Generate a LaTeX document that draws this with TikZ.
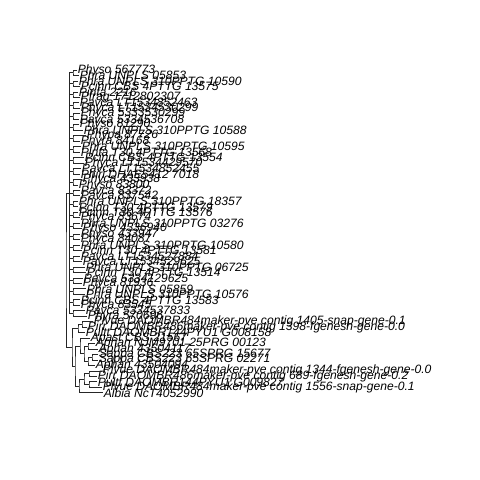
\documentclass[tikz,border=0pt]{standalone}
\usepackage{fontspec}
\setmainfont{Liberation Sans}
\begin{document}
\begin{tikzpicture}[x=1pt,y=-1pt,
  tip/.style={anchor=west,inner sep=0.6pt,font=\fontsize{12.1}{13}\selectfont\itshape},
  edge/.style={line width=0.7pt,draw=black!85}]
\useasboundingbox[fill=white] (0,0) rectangle (480,480);
% tips
\foreach \i/\x/\t in {
1/77/{Physo 567773},
2/79/{Phra UNPLS 05853},
3/78/{Phra UNPLS 310PPTG 10590},
4/80/{Pcinn CBS 4PTTG 13575},
5/78/{Pinfa 2216},
6/80/{Pfrag 1712802307},
7/79/{Pavca LT1534852463},
8/80/{Phyca LT1534530299},
9/80/{Phyca 5333530299},
10/79/{Pavca 5334536708},
11/79/{Physo 81290},
12/83/{Phra UNPLS 310PPTG 10588},
13/86/{Phypa 87726},
14/80/{Phyra 84168},
15/81/{Phra UNPLS 310PPTG 10595},
16/80/{Pinfa T30 4PTTG 13568},
17/84/{Pcinn CBS 4PTTG 13554},
18/84/{Phyca LT1534429570},
19/81/{Pavca LT1534852455},
20/80/{Phiri DHAE5412 7018},
21/82/{Phyca 433938},
22/78/{Physo 83800},
23/80/{Pavca 83372},
24/80/{Pavca 837542},
25/78/{Phra UNPLS 310PPTG 18357},
26/78/{Pcinn T30 4PTTG 13579},
27/78/{Pcinn T30 4PTTG 13576},
28/80/{Phyca 83674},
29/80/{Phra UNPLS 310PPTG 03276},
30/82/{Physo 4336940},
31/80/{Physo 433947},
32/80/{Phyca 84087},
33/80/{Phra UNPLS 310PPTG 10580},
34/82/{Pcinn T30 4PTTG 13581},
35/80/{Pavca LT1534527884},
36/82/{Pavca LT1534529625},
37/85/{Phra UNPLS 310PPTG 06725},
38/86/{Pcinn T30 4PTTG 13514},
39/83/{Pavca 5334129625},
40/82/{Phyca 81936},
41/86/{Phra UNPLS 05859},
42/85/{Phra UNPLS 310PPTG 10576},
43/80/{Pcinn CBS 4PTTG 13583},
44/80/{Phyca 83545},
45/85/{Pavca 5334537833},
46/87/{Phyra 570696},
47/93/{Plvue DAOMBR484maker-pve contig 1405-snap-gene-0.1},
48/87/{Pirr DAOMBR486maker-pve contig 1398-fgenesh-gene-0.0},
49/85/{Pultt DAOMBR144PYU1 G008158},
50/90/{Apast CBS 21567},
51/95/{Aphan NJM9701 25PRG 00123},
52/98/{Aphan 43504117},
53/98/{Sappa CBS223 65SPRG 15677},
54/98/{Sappa CBS223 65SPRG 02271},
55/95/{Aphan 43504094},
56/102/{Plvue DAOMBR484maker-pve contig 1344-fgenesh-gene-0.0},
57/97/{Pirr DAOMBR486maker-pve contig 689-fgenesh-gene-0.2},
58/97/{Pultt DAOMBR144PYU1 G009827},
59/102/{Plvue DAOMBR484maker-pve contig 1556-snap-gene-0.1},
60/103/{Albia NcT4052990}}
  \node[tip] (t\i) at (\x,{70+(\i-1)*5.47}) {\t};
% upper clade
\coordinate (u) at (69,193);
\foreach \k in {1,...,23} {
  \pgfmathtruncatemacro\a{2*\k-1}
  \pgfmathtruncatemacro\b{2*\k}
  \coordinate (q\k) at (73,{70+(2*\k-1.5)*5.47});
  \draw[edge] (t\a.west) -| (q\k) |- (t\b.west);
  \draw[edge] (q\k -| u) -- (q\k);
}
\draw[edge] (q1 -| u) -- (q23 -| u);
% lower clade
\coordinate (a1) at (82,324.3);
\coordinate (a) at (78,328.4);
\coordinate (c2) at (88,346.2);
\coordinate (c4) at (92,357.2);
\coordinate (c3) at (88,361.3);
\coordinate (c1) at (84,353.8);
\coordinate (c) at (80,345.9);
\coordinate (d2) at (89,373.6);
\coordinate (d3) at (89,384.6);
\coordinate (d1) at (84,379.1);
\coordinate (d) at (79,385.9);
\coordinate (b) at (75,365.9);
\coordinate (l) at (72,347.2);
\coordinate (r) at (66,270);
\draw[edge] (t47.west) -| (a1) |- (t48.west);
\draw[edge] (a1) -| (a) |- (t49.west);
\draw[edge] (t51.west) -| (c2) |- (t52.west);
\draw[edge] (t53.west) -| (c4) |- (t54.west);
\draw[edge] (c4) -| (c3) |- (t55.west);
\draw[edge] (c2) -| (c1) |- (c3);
\draw[edge] (t50.west) -| (c) |- (c1);
\draw[edge] (t56.west) -| (d2) |- (t57.west);
\draw[edge] (t58.west) -| (d3) |- (t59.west);
\draw[edge] (d2) -| (d1) |- (d3);
\draw[edge] (d1) -| (d) |- (t60.west);
\draw[edge] (c) -| (b) |- (d);
\draw[edge] (a) -| (l) |- (b);
\draw[edge] (u) -| (r) |- (l);
\end{tikzpicture}
\end{document}
